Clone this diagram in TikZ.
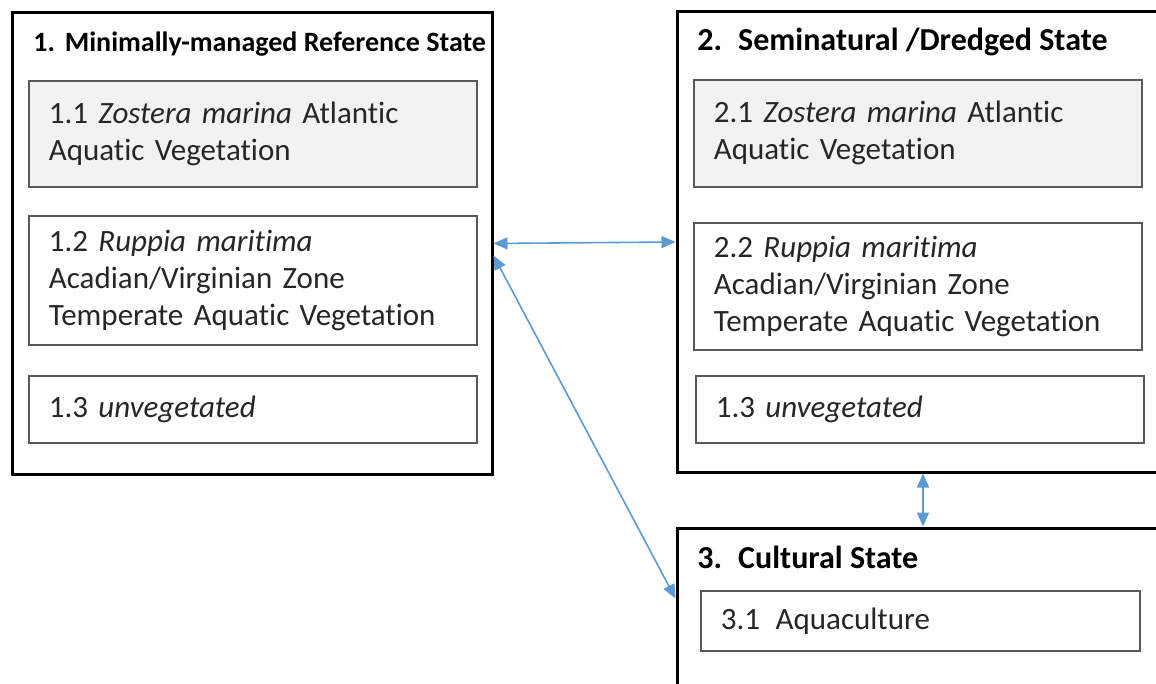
\documentclass[tikz,border=0pt]{standalone}
\usepackage{fontspec}
\setmainfont{Carlito}[Ligatures=NoCommon]
\usetikzlibrary{arrows.meta}
\definecolor{linkblue}{RGB}{91,155,213}
\definecolor{boxgray}{RGB}{242,242,242}
\tikzset{
  >={Triangle[length=7pt,width=6pt]},
  state/.style = {draw, line width=1.5pt, inner sep=0},
  title/.style = {anchor=base west, inner sep=0,
                  font=\bfseries\fontsize{#1}{18}\selectfont},
  title/.default = 16,
  sub/.style = {draw=black!65, line width=0.9pt, anchor=north west,
                fill=#1, text width=204pt, inner xsep=10pt, align=left,
                text=black!85, font=\fontsize{15.5}{18.5}\selectfont},
  sub/.default = white,
  link/.style = {<->, linkblue, line width=0.8pt},
}

\begin{document}
\begin{tikzpicture}[x=0.5pt,y=-0.5pt]
\useasboundingbox (0,0) rectangle (1156,684);
% the three states
\node[state, minimum width=240pt, minimum height=230.5pt] (ref) at (252,243.5) {};
\node[state, minimum width=246pt, minimum height=230pt] (semi) at (923,242) {};
\node[state, minimum width=246pt, minimum height=96pt] (cult) at (923,624) {};
\node[title=14] (ref-t) at (33,52) {1.\hspace{0.35em}Minimally-managed Reference State};
\node[title] (semi-t) at (697,51) {2.\hspace{0.5em}Seminatural /Dredged State};
\node[title] (cult-t) at (697,568) {3.\hspace{0.5em}Cultural State};
% communities
\node[sub=boxgray, minimum height=53pt] (ref-1) at (28,80)
  {1.1 \textit{Zostera marina} Atlantic\\Aquatic Vegetation};
\node[sub, minimum height=64.5pt] (ref-2) at (28,215)
  {1.2 \textit{Ruppia maritima}\\Acadian/Virginian Zone\\Temperate Aquatic Vegetation};
\node[sub, minimum height=33.5pt] (ref-3) at (28,375) {1.3 \textit{unvegetated}};
\node[sub=boxgray, minimum height=53.5pt] (semi-1) at (693,79)
  {2.1 \textit{Zostera marina} Atlantic\\Aquatic Vegetation};
\node[sub, minimum height=63.5pt] (semi-2) at (693,222)
  {2.2 \textit{Ruppia maritima}\\Acadian/Virginian Zone\\Temperate Aquatic Vegetation};
\node[sub, minimum height=33.5pt] (semi-3) at (695,375) {1.3 \textit{unvegetated}};
\node[sub, minimum height=30pt, text width=199.5pt] (cult-1) at (700,590)
  {3.1\hspace{0.5em}Aquaculture};
% transitions
\coordinate (ref-d) at ([yshift=-6pt]ref.east);
\coordinate (cult-d) at ([yshift=-36pt]cult.north west);
\path[link] (ref.east) edge (semi.west)
            (ref-d) edge (cult-d)
            (semi.south) edge (cult.north);
\end{tikzpicture}
\end{document}
